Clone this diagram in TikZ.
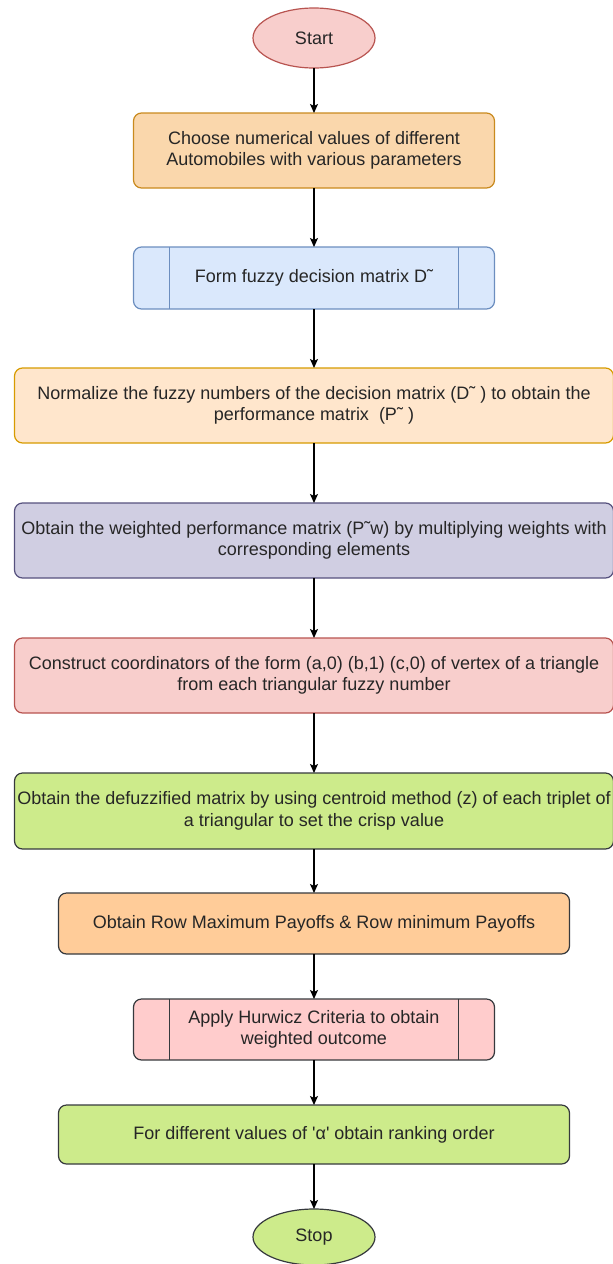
\documentclass[tikz,border=0pt]{standalone}
\usepackage{fontspec}
\setmainfont{Liberation Sans}
\usetikzlibrary{positioning,arrows.meta,shapes.geometric}

\definecolor{pinkfill}{HTML}{F8CECC}
\definecolor{pinkedge}{HTML}{B85450}
\definecolor{peachfill}{HTML}{FAD7AC}
\definecolor{peachedge}{HTML}{C98A1E}
\definecolor{bluefill}{HTML}{DAE8FC}
\definecolor{blueedge}{HTML}{6C8EBF}
\definecolor{creamfill}{HTML}{FFE6CC}
\definecolor{creamedge}{HTML}{D79B00}
\definecolor{lilacfill}{HTML}{D0CEE2}
\definecolor{lilacedge}{HTML}{56517E}
\definecolor{limefill}{HTML}{CDEB8B}
\definecolor{darkedge}{HTML}{36393D}
\definecolor{apricotfill}{HTML}{FFCC99}
\definecolor{rosefill}{HTML}{FFCCCC}

\begin{document}
\begin{tikzpicture}[x=1pt, y=1pt,
    txt/.style={align=center, line width=1.2pt, outer sep=0pt, text=black!85, font=\fontsize{18}{21.6}\selectfont},
    box/.style={txt, draw, rounded corners=8pt, inner xsep=1pt, inner ysep=2pt},
    term/.style={txt, draw, ellipse, inner sep=0pt, minimum width=122pt},
    narrow/.style={box, minimum width=361pt},
    wide/.style={box, minimum width=599pt, minimum height=75pt},
    mid/.style={box, minimum width=511pt},
    arr/.style={-{Stealth[length=9pt, width=8pt, inset=2pt]}, line width=1.3pt},
    node distance=45pt]

\useasboundingbox (0,0) rectangle (613,-1264);

% --- start and input
\node[term, fill=pinkfill, draw=pinkedge, minimum height=60pt] (start) at (314,-38) {Start};
\node[narrow, fill=peachfill, draw=peachedge, minimum height=75pt, below=of start] (choose)
    {Choose numerical values of different\\Automobiles with various parameters};
\draw[arr] (start) -- (choose);
\node[narrow, fill=bluefill, draw=blueedge, minimum height=62pt, below=59pt of choose] (form)
    {Form fuzzy decision matrix D˜};
\draw[arr] (choose) -- (form);

% --- fuzzy steps
\node[wide, fill=creamfill, draw=creamedge, below=59pt of form] (norm)
    {Normalize the fuzzy numbers of the decision matrix (D˜ ) to obtain the\\performance matrix \ (P˜ )};
\draw[arr] (form) -- (norm);
\node[wide, fill=lilacfill, draw=lilacedge, below=60pt of norm] (weigh)
    {Obtain the weighted performance matrix (P˜w) by multiplying weights with\\corresponding elements};
\draw[arr] (norm) -- (weigh);
\node[wide, fill=pinkfill, draw=pinkedge, below=60pt of weigh] (coord)
    {Construct coordinators of the form (a,0) (b,1) (c,0) of vertex of a triangle\\from each triangular fuzzy number};
\draw[arr] (weigh) -- (coord);
\node[wide, fill=limefill, draw=darkedge, minimum height=76pt, below=60pt of coord] (defuzz)
    {Obtain the defuzzified matrix by using centroid method (z) of each triplet of\\a triangular to set the crisp value};
\draw[arr] (coord) -- (defuzz);

% --- hurwicz part
\node[mid, fill=apricotfill, draw=darkedge, minimum height=61pt, below=44pt of defuzz] (payoff)
    {Obtain Row Maximum Payoffs \& Row minimum Payoffs};
\draw[arr] (defuzz) -- (payoff);
\node[narrow, fill=rosefill, draw=darkedge, minimum height=61pt, below=of payoff] (hurw)
    {Apply Hurwicz Criteria to obtain\\weighted outcome};
\draw[arr] (payoff) -- (hurw);
\node[mid, fill=limefill, draw=darkedge, minimum height=59pt, below=of hurw] (rank)
    {For different values of \textquotesingle α\textquotesingle\ obtain ranking order};
\draw[arr] (hurw) -- (rank);
\node[term, fill=limefill, draw=darkedge, minimum height=56pt, below=of rank] (stop) {Stop};
\draw[arr] (rank) -- (stop);

% --- side bars of the two process boxes
\draw[line width=1.2pt, blueedge] ([xshift=36pt]form.north west) -- ([xshift=36pt]form.south west);
\draw[line width=1.2pt, blueedge] ([xshift=-36pt]form.north east) -- ([xshift=-36pt]form.south east);
\draw[line width=1.2pt, darkedge] ([xshift=36pt]hurw.north west) -- ([xshift=36pt]hurw.south west);
\draw[line width=1.2pt, darkedge] ([xshift=-36pt]hurw.north east) -- ([xshift=-36pt]hurw.south east);
\end{tikzpicture}
\end{document}
